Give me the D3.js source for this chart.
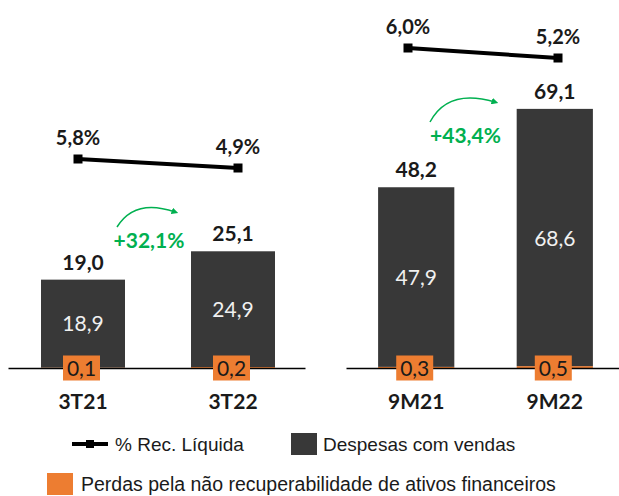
<!DOCTYPE html>
<html>
<head>
<meta charset="utf-8">
<script src="https://cdn.jsdelivr.net/npm/d3@7"></script>
<style>
  body { margin: 0; background: #fff; }
  svg text { font-family: Lato, "Open Sans", sans-serif; }
  .legend text { font-family: "Liberation Sans", Arial, sans-serif; }
</style>
</head>
<body>
<div id="chart"></div>
<script>
// values
var periods = ["3T21", "3T22", "9M21", "9M22"];
var totals = [19.0, 25.1, 48.2, 69.1];
var despesas = [18.9, 24.9, 47.9, 68.6];
var perdas = [0.1, 0.2, 0.3, 0.5];
var recLiquida = [5.8, 4.9, 6.0, 5.2];
var growth = ["+32,1%", "+43,4%"];

var svgWidth = 619;
var svgHeight = 496;
var baseline = 368;

var darkColor = "#383838";
var orangeColor = "#ED7D31";
var greenColor = "#00B050";

var svg = d3.select("#chart")
  .append("svg")
  .attr("width", svgWidth)
  .attr("height", svgHeight);

svg.append("defs").append("marker")
  .attr("id", "arrow")
  .attr("viewBox", "0 0 10 10")
  .attr("refX", 5).attr("refY", 5)
  .attr("markerWidth", 4.5).attr("markerHeight", 4.5)
  .attr("orient", "auto")
  .append("path")
  .attr("d", "M0,0 L10,5 L0,10 z")
  .attr("fill", greenColor);

var comma = function(v) { return d3.format(".1f")(v).replace(".", ","); };

// two panels, each with its own scale (as in the original)
var panels = [
  { idx: [0, 1], xRange: [8, 308], pIn: 0.44, pOut: 0.22, axis: [8, 305],
    yMax: 20, yTop: 275, lineX: [78, 238], lineY: [167, 157],
    arrowX: [117, 175], arrowY: [227, 212], growthY: 248 },
  { idx: [2, 3], xRange: [349, 622], pIn: 0.45, pOut: 0.21, axis: [346, 619],
    yMax: 80, yTop: 68, lineX: [408, 558], lineY: [60.5, 48],
    arrowX: [430, 495], arrowY: [122, 102], growthY: 143 }
];

panels.forEach(function(p, pi) {
  var data = p.idx.map(function(i) {
    return { cat: periods[i], total: totals[i], desp: despesas[i], perd: perdas[i], rec: recLiquida[i] };
  });

  var x = d3.scaleBand()
    .domain(data.map(d => d.cat))
    .range(p.xRange)
    .paddingInner(p.pIn)
    .paddingOuter(p.pOut);

  var y = d3.scaleLinear()
    .domain([0, p.yMax])
    .range([baseline, p.yTop]);

  var xLine = d3.scalePoint()
    .domain(data.map(d => d.cat))
    .range(p.lineX);

  var yLine = d3.scaleLinear()
    .domain([5, 6])
    .range(p.lineY);

  var g = svg.append("g");

  // stacked bars: perdas at the bottom, despesas on top
  g.selectAll(".perd")
    .data(data)
    .enter()
    .append("rect")
    .attr("x", d => x(d.cat))
    .attr("y", d => y(d.perd))
    .attr("width", x.bandwidth())
    .attr("height", d => y(0) - y(d.perd))
    .attr("fill", orangeColor);

  g.selectAll(".desp")
    .data(data)
    .enter()
    .append("rect")
    .attr("x", d => x(d.cat))
    .attr("y", d => y(d.total))
    .attr("width", x.bandwidth())
    .attr("height", d => y(d.perd) - y(d.total))
    .attr("fill", darkColor);

  // axis line
  var axis = d3.axisBottom(d3.scaleLinear().range(p.axis)).ticks(0).tickSize(0).tickFormat("");
  var ax = g.append("g")
    .attr("transform", `translate(0, ${baseline})`)
    .call(axis);
  ax.select(".domain").attr("stroke", "#000").attr("stroke-width", 1.5);

  // total labels
  g.selectAll(".tot")
    .data(data)
    .enter()
    .append("text")
    .attr("x", d => x(d.cat) + x.bandwidth() / 2)
    .attr("y", d => y(d.total) - 10)
    .attr("text-anchor", "middle")
    .attr("font-size", "21px")
    .attr("font-weight", "bold")
    .attr("fill", "#1a1a1a")
    .text(d => comma(d.total));

  // inner labels
  g.selectAll(".inner")
    .data(data)
    .enter()
    .append("text")
    .attr("x", d => x(d.cat) + x.bandwidth() / 2)
    .attr("y", d => (y(d.total) + y(0)) / 2)
    .attr("dy", "0.35em")
    .attr("text-anchor", "middle")
    .attr("font-size", "21px")
    .attr("fill", "#f0f0f0")
    .text(d => comma(d.desp));

  // orange label boxes for perdas
  var boxes = g.selectAll(".box")
    .data(data)
    .enter()
    .append("g")
    .attr("transform", d => `translate(${x(d.cat) + x.bandwidth() / 2 - 1.5}, ${baseline})`);
  boxes.append("rect")
    .attr("x", -18.5).attr("y", -12.5)
    .attr("width", 37).attr("height", 25)
    .attr("fill", orangeColor);
  boxes.append("text")
    .attr("text-anchor", "middle")
    .attr("dy", "0.36em")
    .attr("font-size", "21px")
    .attr("fill", "#1a1a1a")
    .text(d => comma(d.perd));

  // category labels
  g.selectAll(".cat")
    .data(data)
    .enter()
    .append("text")
    .attr("x", d => x(d.cat) + x.bandwidth() / 2)
    .attr("y", 409)
    .attr("text-anchor", "middle")
    .attr("font-size", "21px")
    .attr("font-weight", "bold")
    .attr("fill", "#1a1a1a")
    .text(d => d.cat);

  // % Rec. Liquida line
  var line = d3.line()
    .x(d => xLine(d.cat))
    .y(d => yLine(d.rec));
  g.append("path")
    .datum(data)
    .attr("d", line)
    .attr("fill", "none")
    .attr("stroke", "#000")
    .attr("stroke-width", 4);
  g.selectAll(".mk")
    .data(data)
    .enter()
    .append("rect")
    .attr("x", d => xLine(d.cat) - 4.5)
    .attr("y", d => yLine(d.rec) - 4.5)
    .attr("width", 9)
    .attr("height", 9)
    .attr("fill", "#000");
  g.selectAll(".pct")
    .data(data)
    .enter()
    .append("text")
    .attr("x", d => xLine(d.cat))
    .attr("y", d => yLine(d.rec) - 14)
    .attr("text-anchor", "middle")
    .attr("font-size", "20px")
    .attr("font-weight", "bold")
    .attr("fill", "#1a1a1a")
    .text(d => comma(d.rec) + "%");

  // growth arrow
  var x0 = p.arrowX[0];
  var x1 = p.arrowX[1];
  g.append("path")
    .attr("d", `M${x0},${p.arrowY[0]} Q${x0 + 18},${p.arrowY[1] - 14} ${x1},${p.arrowY[1]}`)
    .attr("fill", "none")
    .attr("stroke", greenColor)
    .attr("stroke-width", 1.5)
    .attr("marker-end", "url(#arrow)");
  g.append("text")
    .attr("x", (x0 + x1) / 2 + 3)
    .attr("y", p.growthY)
    .attr("text-anchor", "middle")
    .attr("font-size", "21px")
    .attr("font-weight", "bold")
    .attr("fill", greenColor)
    .text(growth[pi]);
});

// legend
var legend = svg.append("g").attr("class", "legend");

legend.append("line")
  .attr("x1", 72).attr("x2", 108)
  .attr("y1", 444).attr("y2", 444)
  .attr("stroke", "#000").attr("stroke-width", 4);
legend.append("rect")
  .attr("x", 86).attr("y", 440).attr("width", 8).attr("height", 8)
  .attr("fill", "#000");
legend.append("text")
  .attr("x", 115).attr("y", 451)
  .attr("font-size", "19px")
  .attr("fill", "#1a1a1a")
  .text("% Rec. Líquida");

legend.append("rect")
  .attr("x", 291).attr("y", 433).attr("width", 26).attr("height", 22)
  .attr("fill", darkColor);
legend.append("text")
  .attr("x", 323).attr("y", 451)
  .attr("font-size", "19px")
  .attr("fill", "#1a1a1a")
  .text("Despesas com vendas");

legend.append("rect")
  .attr("x", 47).attr("y", 473).attr("width", 26).attr("height", 22)
  .attr("fill", orangeColor);
legend.append("text")
  .attr("x", 81).attr("y", 491)
  .attr("font-size", "19.5px")
  .attr("fill", "#1a1a1a")
  .text("Perdas pela não recuperabilidade de ativos financeiros");
</script>
</body>
</html>
